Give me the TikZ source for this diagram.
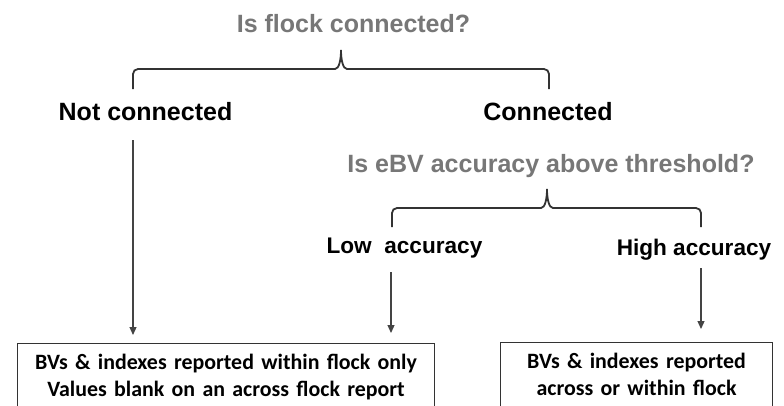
\documentclass[tikz,border=0pt]{standalone}
\usepackage{fontspec}
\setmainfont{Liberation Sans}
\newfontfamily\boxfont{Carlito}
\usetikzlibrary{arrows.meta}
\definecolor{qgray}{HTML}{777777}
\definecolor{lgray}{HTML}{333333}
\definecolor{agray}{HTML}{444444}
\tikzset{
  question/.style={text=qgray, font=\fontsize{25}{29}\selectfont\bfseries, inner sep=0pt, anchor=base},
  answer/.style={text=black, font=\fontsize{25}{29}\selectfont\bfseries, inner sep=0pt, anchor=base},
  subanswer/.style={answer, font=\fontsize{22.6}{27}\selectfont\bfseries},
  outcome/.style={draw=lgray, line width=1.1pt, align=center, anchor=north west,
    font=\boxfont\fontsize{21.9}{27}\selectfont\bfseries, inner xsep=0pt, inner ysep=10.5pt},
  bracket/.style={draw=lgray, line width=1.8pt},
  arr/.style={draw=agray, line width=1.2pt, -{Triangle[length=8pt,width=7pt]}},
}
\begin{document}
\begin{tikzpicture}[x=1pt,y=-1pt]
\useasboundingbox (0,0) rectangle (784,405);
\clip (0,0) rectangle (784,405);
\fill[white] (0,0) rectangle (784,405);

% first question and its two answers
\node[question] (q1) at (353.5,32) {Is flock connected?};
\node[answer] (nc) at (145.5,120) {Not connected};
\node[answer] (c) at (548,120) {Connected};

% second question and its two answers
\node[question] (q2) at (551,172) {Is eBV accuracy above threshold?};
\node[subanswer] (low) at (404.5,253) {Low\ \ accuracy};
\node[subanswer] (high) at (694,255) {High accuracy};

% outcome boxes (their lower edge runs off the page)
\node[outcome, text width=417pt] (box1) at (17,343)
  {BVs \& indexes reported within flock only\\Values blank on an across flock report};
\node[outcome, text width=272pt] (box2) at (500,342)
  {BVs \& indexes reported\\across or within flock};

% brace under the first question
\coordinate (b1l) at (133,89);
\coordinate (b1t) at (341,50);
\coordinate (b1r) at (549,89);
\draw[bracket] (b1l) -- (133,74) arc[start angle=180,end angle=270,radius=5]
  -- (335,69) .. controls (339,69) and (341,60) .. (b1t)
  .. controls (341,60) and (343,69) .. (347,69)
  -- (544,69) arc[start angle=270,end angle=360,radius=5] -- (b1r);

% brace under the second question
\coordinate (b2l) at (392,227);
\coordinate (b2t) at (547,189);
\coordinate (b2r) at (701,227);
\draw[bracket] (b2l) -- (392,213) arc[start angle=180,end angle=270,radius=5]
  -- (541,208) .. controls (545,208) and (547,199) .. (b2t)
  .. controls (547,199) and (549,208) .. (553,208)
  -- (696,208) arc[start angle=270,end angle=360,radius=5] -- (b2r);

% arrows from the answers down to the outcomes
\coordinate (a1s) at (133,140);
\coordinate (a2s) at (391,272);
\coordinate (a3s) at (701,268);
\draw[arr, shorten >=8pt] (a1s) -- (a1s |- box1.north);
\draw[arr, shorten >=10pt] (a2s) -- (a2s |- box1.north);
\draw[arr, shorten >=13pt] (a3s) -- (a3s |- box2.north);
\end{tikzpicture}
\end{document}
